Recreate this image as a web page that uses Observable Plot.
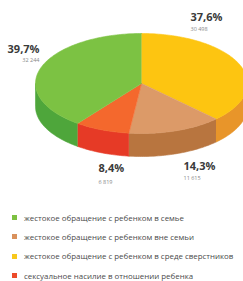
<!DOCTYPE html>
<html><head><meta charset="utf-8">
<script src="https://cdn.jsdelivr.net/npm/d3@7"></script>
<script src="https://cdn.jsdelivr.net/npm/@observablehq/plot@0.6"></script>
<style>
body{margin:0;background:#fff;width:243px;height:281px;overflow:hidden;font-family:"Open Sans",sans-serif;}
#legend{padding:0;margin:0;}
.row{height:19.3px;display:flex;align-items:center;padding-left:12px;font-size:7.9px;color:#4a4a4a;white-space:nowrap;}
.sw{width:5px;height:5px;margin-right:7px;flex:none;}
</style></head><body>
<div id="chart"></div>
<div id="legend"></div>
<script>
// ---- data ----
const categories = [
  "жестокое обращение с ребенком в семье",
  "жестокое обращение с ребенком вне семьи",
  "жестокое обращение с ребенком в среде сверстников",
  "сексуальное насилие в отношении ребенка"
];
const percents = [39.7, 14.3, 37.6, 8.4];
const counts = ["32 244", "11 615", "30 498", "6 819"];
// clockwise drawing order starting at 12 o'clock
const pieOrder = [2, 1, 3, 0];

// ---- styles / layout ----
const topColors  = ["#7cc243", "#dc9a68", "#fdc511", "#f4682d"];
const sideColors = ["#4ea63b", "#b8753f", "#e8952a", "#e63a26"];
const legendColors = ["#7dc142", "#d9915c", "#f8c81c", "#ec4b2a"];
const W = 243, H = 208;
const CX = 141, CY = 83, RX = 106, RY = 50, DEPTH = 23;
// label anchors (pixels) per category
const labelLayout = [
  {x: 39, y: 48.5, cy: 60, anchor: "end"},
  {x: 183, y: 166, cy: 178, anchor: "start"},
  {x: 190, y: 17, cy: 29, anchor: "start"},
  {x: 98, y: 168, cy: 182, anchor: "start"}
];

const pie = d3.pie().sort(null).value(i => percents[i]).startAngle(0).endAngle(2 * Math.PI);
const arcs = pie(pieOrder);
const depthU = DEPTH / RY;

const tops = [], sides = [];
arcs.forEach(a => {
  const i = a.data;
  const n = Math.max(4, Math.ceil((a.endAngle - a.startAngle) / 0.02));
  tops.push({x: 0, y: 0, key: "t" + i, color: topColors[i]});
  for (let k = 0; k <= n; k++) {
    const t = a.startAngle + (a.endAngle - a.startAngle) * k / n;
    tops.push({x: Math.sin(t), y: -Math.cos(t), key: "t" + i, color: topColors[i]});
  }
  const s0 = Math.max(a.startAngle, Math.PI / 2), s1 = Math.min(a.endAngle, 3 * Math.PI / 2);
  if (s1 > s0) {
    const m = Math.max(4, Math.ceil((s1 - s0) / 0.02));
    const up = [], down = [];
    for (let k = 0; k <= m; k++) {
      const t = s0 + (s1 - s0) * k / m;
      up.push({x: Math.sin(t), y: -Math.cos(t)});
      down.push({x: Math.sin(t), y: -Math.cos(t) + depthU});
    }
    up.concat(down.reverse()).forEach(p => sides.push({...p, key: "s" + i, color: sideColors[i]}));
  }
});

const toU = (px, py) => ({x: (px - CX) / RX, y: (py - CY) / RY});
const labels = [], countLabels = [];
categories.forEach((c, i) => {
  const L = labelLayout[i];
  labels.push({...toU(L.x, L.y), text: String(percents[i]).replace(".", ",") + "%", anchor: L.anchor});
  countLabels.push({...toU(L.x, L.cy), text: counts[i], anchor: L.anchor});
});

const chart = Plot.plot({
  width: W, height: H, margin: 0,
  x: {domain: [-CX / RX, (W - CX) / RX], range: [0, W], axis: null},
  y: {domain: [-CY / RY, (H - CY) / RY], range: [0, H], axis: null},
  color: {type: "identity"},
  marks: [
    Plot.line(sides, {x: "x", y: "y", z: "key", fill: "color", stroke: "color", strokeWidth: 0.6}),
    Plot.line(tops, {x: "x", y: "y", z: "key", fill: "color", stroke: "color", strokeWidth: 0.6}),
    Plot.text(labels.filter(d => d.anchor === "end"), {x: "x", y: "y", text: "text", textAnchor: "end", fontSize: 11, fontWeight: "bold", fill: "#3a3a3a", fontFamily: "Open Sans"}),
    Plot.text(labels.filter(d => d.anchor === "start"), {x: "x", y: "y", text: "text", textAnchor: "start", fontSize: 11, fontWeight: "bold", fill: "#3a3a3a", fontFamily: "Open Sans"}),
    Plot.text(countLabels.filter(d => d.anchor === "end"), {x: "x", y: "y", text: "text", textAnchor: "end", fontSize: 5.5, fill: "#888", fontFamily: "Open Sans"}),
    Plot.text(countLabels.filter(d => d.anchor === "start"), {x: "x", y: "y", text: "text", textAnchor: "start", fontSize: 5.5, fill: "#888", fontFamily: "Open Sans"})
  ]
});
document.getElementById("chart").appendChild(chart);

const legend = document.getElementById("legend");
categories.forEach((c, i) => {
  const row = document.createElement("div");
  row.className = "row";
  const sw = document.createElement("span");
  sw.className = "sw";
  sw.style.background = legendColors[i];
  const tx = document.createElement("span");
  tx.textContent = c;
  row.appendChild(sw); row.appendChild(tx);
  legend.appendChild(row);
});
</script>
</body></html>
